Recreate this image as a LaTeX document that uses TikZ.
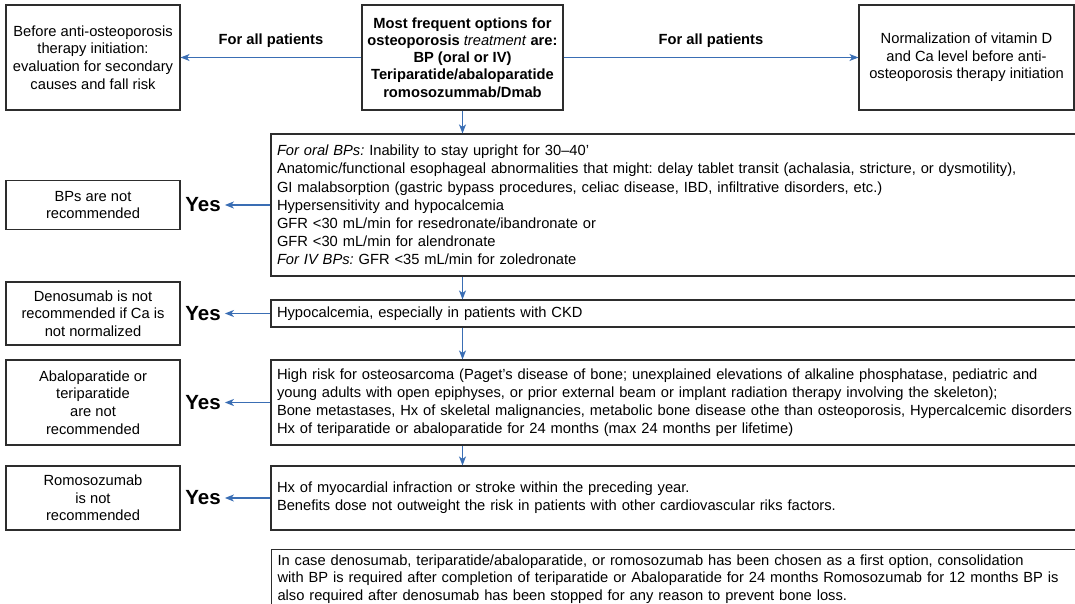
\documentclass[tikz,border=0pt]{standalone}
\usepackage{fontspec}
\setmainfont{Liberation Sans}
\usetikzlibrary{arrows.meta}
\definecolor{arrowblue}{RGB}{58,110,180}
\definecolor{boxline}{RGB}{45,45,45}
\frenchspacing
\begin{document}
\begin{tikzpicture}[x=1pt,y=-1pt,
  box/.style={draw=boxline, line width=1.1pt, inner sep=0pt, align=center,
    font=\fontsize{14.7}{17.6}\selectfont},
  leftbox/.style={box, minimum width=174pt},
  widebox/.style={draw=boxline, line width=1.1pt, inner xsep=6pt, inner ysep=0pt,
    text width=807pt, align=left, font=\fontsize{14.7}{18.2}\selectfont},
  yeslabel/.style={font=\bfseries\fontsize{20.5}{24}\selectfont, inner xsep=4pt, inner ysep=0pt},
  alllabel/.style={font=\bfseries\fontsize{14.7}{17.6}\selectfont, inner sep=0pt},
  flow/.style={draw=arrowblue, line width=1.3pt, -{Stealth[length=9pt,width=7pt,inset=2.5pt]}}
]
\useasboundingbox (0,0) rectangle (1075,604);
\clip (0,0) rectangle (1075,604);

% top row
\node[leftbox, minimum height=105pt] (A) at (93,57.5)
  {Before anti-osteoporosis\\therapy initiation:\\evaluation for secondary\\causes and fall risk};
\node[box, minimum width=201pt, minimum height=105pt, font=\bfseries\fontsize{14.7}{17.3}\selectfont] (B) at (462.5,57.5)
  {Most frequent options for\\osteoporosis \textmd{\textit{treatment}} are:\\BP (oral or IV)\\Teriparatide/abaloparatide\\romosozummab/Dmab};
\node[box, minimum width=215pt, minimum height=105pt] (C) at (966.5,57.5)
  {Normalization of vitamin D\\and Ca level before anti-\\osteoporosis therapy initiation};

\node[alllabel] (lab1) at (271,41) {For all patients};
\node[alllabel] (lab2) at (711,41) {For all patients};

\draw[flow] (B.west) -- (A.east);
\draw[flow] (B.east) -- (C.west);

% criteria column
\node[widebox, minimum height=142pt] (D) at (680.5,205)
  {\textit{For oral BPs:} Inability to stay upright for 30--40'\\
   Anatomic/functional esophageal abnormalities that might: delay tablet transit (achalasia, stricture, or dysmotility),\\
   GI malabsorption (gastric bypass procedures, celiac disease, IBD, infiltrative disorders, etc.)\\
   Hypersensitivity and hypocalcemia\\
   GFR <30 mL/min for resedronate/ibandronate or\\
   GFR <30 mL/min for alendronate\\
   \textit{For IV BPs:} GFR <35 mL/min for zoledronate};
\node[widebox, minimum height=27pt] (F) at (680.5,313.5)
  {Hypocalcemia, especially in patients with CKD};
\node[widebox, minimum height=85pt] (H) at (680.5,402.5)
  {High risk for osteosarcoma (Paget's disease of bone; unexplained elevations of alkaline phosphatase, pediatric and\\
   young adults with open epiphyses, or prior external beam or implant radiation therapy involving the skeleton);\\
   Bone metastases, Hx of skeletal malignancies, metabolic bone disease othe than osteoporosis, Hypercalcemic disorders\\
   Hx of teriparatide or abaloparatide for 24 months (max 24 months per lifetime)};
\node[widebox, minimum height=64pt] (J) at (680.5,498)
  {Hx of myocardial infraction or stroke within the preceding year.\\
   Benefits dose not outweight the risk in patients with other cardiovascular riks factors.};
\node[widebox, inner ysep=5pt, anchor=north west, font=\fontsize{14.7}{17.4}\selectfont] (L) at (271,549)
  {In case denosumab, teriparatide/abaloparatide, or romosozumab has been chosen as a first option, consolidation\\
   with BP is required after completion of teriparatide or Abaloparatide for 24 months Romosozumab for 12 months BP is\\
   also required after denosumab has been stopped for any reason to prevent bone loss.};

% outcome column
\node[leftbox, minimum height=49pt] (E) at (93,205) {BPs are not\\recommended};
\node[leftbox, minimum height=63pt] (G) at (93,313.5) {Denosumab is not\\recommended if Ca is\\not normalized};
\node[leftbox, minimum height=85pt] (I) at (93,402.5) {Abaloparatide or\\teriparatide\\are not\\recommended};
\node[leftbox, minimum height=64pt] (K) at (93,498) {Romosozumab\\is not\\recommended};

\node[yeslabel] (y1) at (203,205) {Yes};
\node[yeslabel] (y2) at (203,313.5) {Yes};
\node[yeslabel] (y3) at (203,402.5) {Yes};
\node[yeslabel] (y4) at (203,498) {Yes};

\draw[flow] (D.west) -- (y1.east);
\draw[flow] (F.west) -- (y2.east);
\draw[flow] (H.west) -- (y3.east);
\draw[flow] (J.west) -- (y4.east);

% downward flow
\draw[flow] (B.south) -- (B.south |- D.north);
\draw[flow] (B.south |- D.south) -- (B.south |- F.north);
\draw[flow] (B.south |- F.south) -- (B.south |- H.north);
\draw[flow] (B.south |- H.south) -- (B.south |- J.north);
\end{tikzpicture}
\end{document}
